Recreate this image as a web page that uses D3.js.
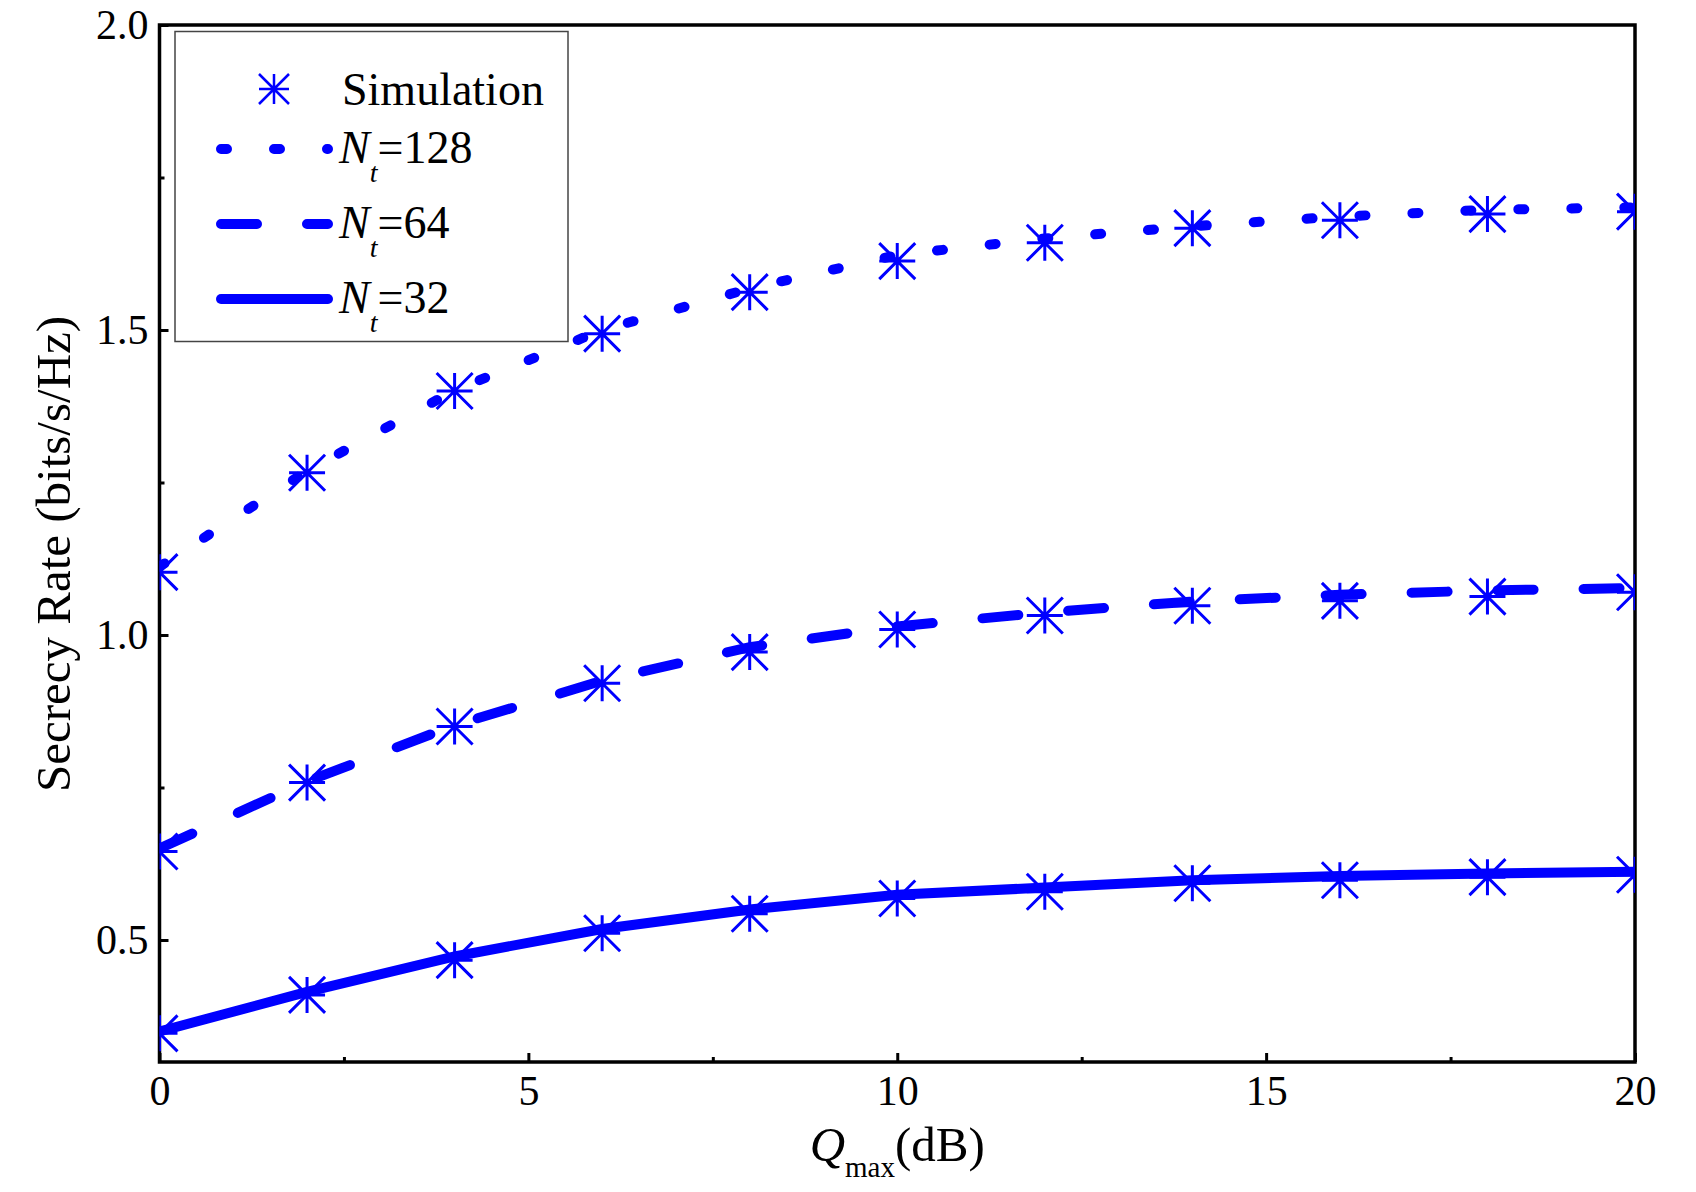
<!DOCTYPE html>
<html>
<head>
<meta charset="utf-8">
<script src="https://cdn.jsdelivr.net/npm/d3@7"></script>
<style>
body { margin: 0; background: #fff; }
svg { display: block; }
text { font-family: "Liberation Serif", "Times New Roman", serif; fill: #000; }
</style>
</head>
<body>
<svg id="chart" width="1696" height="1192"></svg>
<script>
// Q_max in dB
var qmax = [0, 2, 4, 6, 8, 10, 12, 14, 16, 18, 20]
var ntLabels = ["128", "64", "32"]
// analytical curves
var theory128 = [1.112, 1.269, 1.401, 1.500, 1.568, 1.623, 1.650, 1.670, 1.686, 1.697, 1.701]
var theory64  = [0.650, 0.760, 0.852, 0.925, 0.980, 1.014, 1.037, 1.055, 1.066, 1.073, 1.077]
var theory32  = [0.350, 0.415, 0.473, 0.518, 0.550, 0.574, 0.586, 0.598, 0.605, 0.609, 0.612]
// simulation points
var sim128 = [1.103, 1.266, 1.400, 1.494, 1.562, 1.613, 1.643, 1.667, 1.680, 1.690, 1.694]
var sim64  = [0.645, 0.758, 0.850, 0.921, 0.972, 1.009, 1.032, 1.048, 1.056, 1.063, 1.070]
var sim32  = [0.347, 0.410, 0.467, 0.511, 0.543, 0.568, 0.579, 0.593, 0.598, 0.603, 0.607]
var xMajor = [0, 5, 10, 15, 20]
var xMinor = [2.5, 7.5, 12.5, 17.5]
var yMajor = [0.5, 1.0, 1.5, 2.0]
var yMinor = [0.75, 1.25, 1.75]

var blue = "#0000ff"
var lw = 10
var dashes = { "128": "6,47", "64": "36,50", "32": null }

var m = { l: 159.5, r: 1635, t: 25, b: 1062 }
var x = d3.scaleLinear().domain([0, 20]).range([m.l, m.r])
var y = d3.scaleLinear().domain([0.3, 2.0]).range([m.b, m.t])

var svg = d3.select("#chart")

function star(r) {
  return "M" + (-r) + ",0L" + r + ",0M0," + (-r) + "L0," + r +
    "M" + (-r) + "," + (-r) + "L" + r + "," + r +
    "M" + (-r) + "," + r + "L" + r + "," + (-r)
}

function styleAxis(g, fs) {
  g.select(".domain").remove()
  g.selectAll("line").attr("stroke", "#000").attr("stroke-width", 3)
  g.selectAll("text").attr("font-size", fs).attr("font-family", null)
}

// axes, ticks point inward
svg.append("g")
  .attr("transform", "translate(0," + m.b + ")")
  .call(d3.axisBottom(x).tickValues(xMajor).tickSize(-9).tickPadding(13).tickFormat(d3.format("d")))
  .call(g => styleAxis(g, 42))
svg.append("g")
  .attr("transform", "translate(0," + m.b + ")")
  .call(d3.axisBottom(x).tickValues(xMinor).tickSize(-5).tickFormat(""))
  .call(g => styleAxis(g, 42))
svg.append("g")
  .attr("transform", "translate(" + m.l + ",0)")
  .call(d3.axisLeft(y).tickValues(yMajor).tickSize(-9).tickPadding(11).tickFormat(d3.format(".1f")))
  .call(g => styleAxis(g, 42))
svg.append("g")
  .attr("transform", "translate(" + m.l + ",0)")
  .call(d3.axisLeft(y).tickValues(yMinor).tickSize(-5).tickFormat(""))
  .call(g => styleAxis(g, 42))

svg.append("rect")
  .attr("x", m.l).attr("y", m.t)
  .attr("width", m.r - m.l).attr("height", m.b - m.t)
  .attr("fill", "none").attr("stroke", "#000").attr("stroke-width", 3.5)

// axis titles
var xt = svg.append("text")
  .attr("x", (m.l + m.r) / 2).attr("y", 1161)
  .attr("text-anchor", "middle").attr("font-size", 49)
xt.append("tspan").attr("font-style", "italic").text("Q")
xt.append("tspan").attr("font-size", 29).attr("dy", 16).text("max")
xt.append("tspan").attr("dy", -16).text("(dB)")

svg.append("text")
  .attr("transform", "translate(70,554) rotate(-90)")
  .attr("text-anchor", "middle").attr("font-size", 49)
  .text("Secrecy Rate (bits/s/Hz)")

// data
svg.append("clipPath").attr("id", "plotclip")
  .append("rect")
  .attr("x", m.l).attr("y", m.t)
  .attr("width", m.r - m.l).attr("height", m.b - m.t)

var series = [
  { nt: "128", theory: theory128, sim: sim128 },
  { nt: "64", theory: theory64, sim: sim64 },
  { nt: "32", theory: theory32, sim: sim32 }
]

var line = d3.line()
  .x((d, i) => x(qmax[i]))
  .y(d => y(d))

var plot = svg.append("g").attr("clip-path", "url(#plotclip)")

plot.selectAll("path.curve")
  .data(series)
  .join("path")
  .attr("class", "curve")
  .attr("d", d => line(d.theory))
  .attr("fill", "none")
  .attr("stroke", blue)
  .attr("stroke-width", lw)
  .attr("stroke-linecap", "round")
  .attr("stroke-dasharray", d => dashes[d.nt])

series.forEach(s => {
  plot.append("g")
    .selectAll("path")
    .data(s.sim)
    .join("path")
    .attr("transform", (d, i) => "translate(" + x(qmax[i]) + "," + y(d) + ")")
    .attr("d", star(18))
    .attr("fill", "none")
    .attr("stroke", blue)
    .attr("stroke-width", 3)
})

// legend
var lg = svg.append("g")
lg.append("rect")
  .attr("x", 175).attr("y", 31.5)
  .attr("width", 393).attr("height", 310)
  .attr("fill", "#fff").attr("stroke", "#444").attr("stroke-width", 1.5)

lg.append("path")
  .attr("transform", "translate(274,89)")
  .attr("d", star(15))
  .attr("fill", "none").attr("stroke", blue).attr("stroke-width", 2.5)
lg.append("text")
  .attr("x", 342).attr("y", 105)
  .attr("font-size", 46)
  .text("Simulation")

ntLabels.forEach((n, i) => {
  var yy = 149 + i * 75
  lg.append("line")
    .attr("x1", 221).attr("x2", 328)
    .attr("y1", yy).attr("y2", yy)
    .attr("stroke", blue).attr("stroke-width", lw)
    .attr("stroke-linecap", "round")
    .attr("stroke-dasharray", dashes[n])
  var t = lg.append("text")
    .attr("x", 339).attr("y", yy + 14)
    .attr("font-size", 46)
  t.append("tspan").attr("font-style", "italic").text("N")
  t.append("tspan").attr("font-style", "italic").attr("font-size", 28).attr("dy", 19).text("t")
  t.append("tspan").attr("dy", -19).text("=" + n)
})
</script>
</body>
</html>
